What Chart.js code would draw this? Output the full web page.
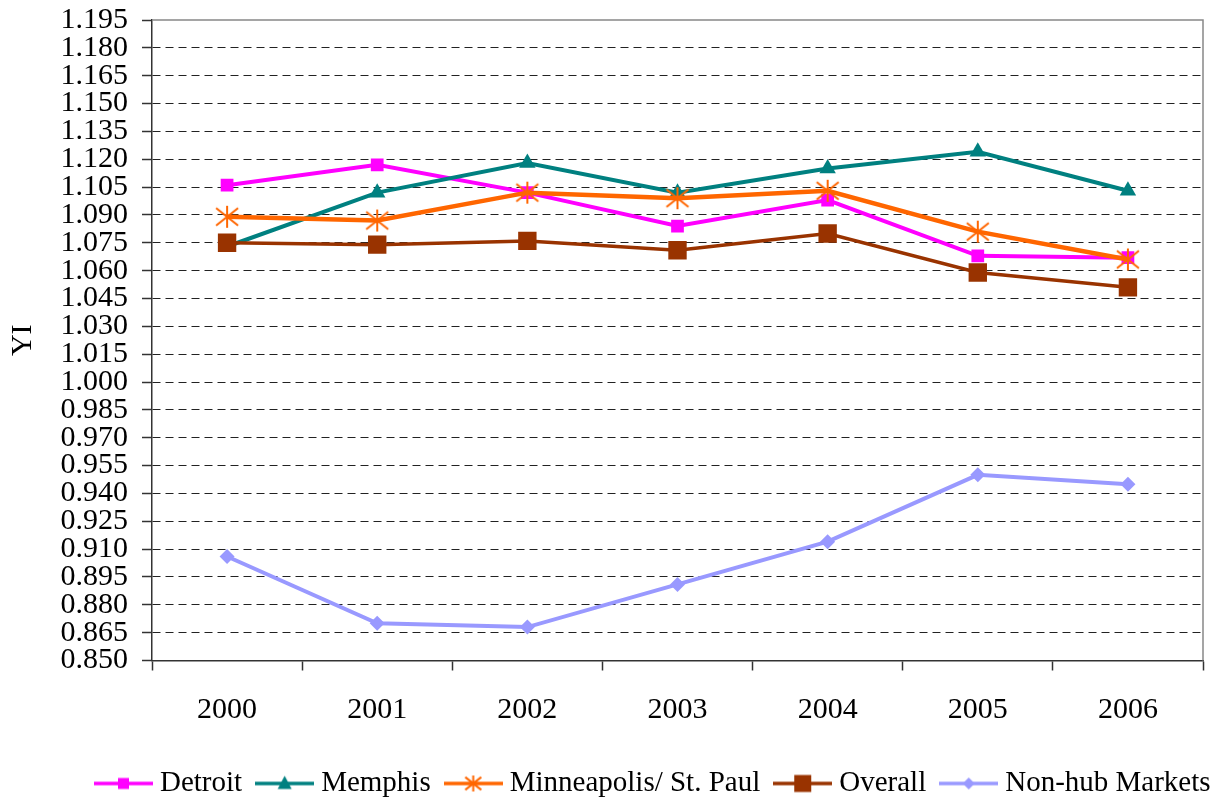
<!DOCTYPE html>
<html>
<head>
<meta charset="utf-8">
<script src="https://cdn.jsdelivr.net/npm/chart.js@4.4.1/dist/chart.umd.min.js"></script>
<style>
  html, body { margin: 0; padding: 0; background: #fff; }
  #wrap { width: 1219px; height: 801px; }
</style>
</head>
<body>
<div id="wrap"><canvas id="yiChart" width="1219" height="801"></canvas></div>
<script>
// Data
const years = ['2000', '2001', '2002', '2003', '2004', '2005', '2006'];
const detroit = [1.106, 1.117, 1.102, 1.084, 1.098, 1.068, 1.067];
const memphis = [1.073, 1.102, 1.118, 1.102, 1.115, 1.124, 1.103];
const minneapolis = [1.089, 1.087, 1.102, 1.099, 1.103, 1.081, 1.066];
const overall = [1.075, 1.074, 1.076, 1.071, 1.080, 1.059, 1.051];
const nonHub = [0.906, 0.870, 0.868, 0.891, 0.914, 0.950, 0.945];
const yTicks = [0.850, 0.865, 0.880, 0.895, 0.910, 0.925, 0.940, 0.955, 0.970, 0.985,
  1.000, 1.015, 1.030, 1.045, 1.060, 1.075, 1.090, 1.105, 1.120, 1.135, 1.150, 1.165, 1.180, 1.195];

const FONT = 'Liberation Serif';

// draws one marker shape onto a 2d context
function drawMarker(c, shape, x, y, s, color) {
    c.fillStyle = color;
    c.strokeStyle = color;
    c.beginPath();
    if (shape === 'rect') {
        c.fillRect(x - s / 2, y - s / 2, s, s);
    } else if (shape === 'triangle') {
        c.moveTo(x, y - s * 0.55);
        c.lineTo(x + s / 2, y + s * 0.4);
        c.lineTo(x - s / 2, y + s * 0.4);
        c.closePath();
        c.fill();
    } else if (shape === 'diamond') {
        c.moveTo(x, y - s / 2);
        c.lineTo(x + s / 2, y);
        c.lineTo(x, y + s / 2);
        c.lineTo(x - s / 2, y);
        c.closePath();
        c.fill();
    } else if (shape === 'star') {
        const h = s / 2;
        c.lineWidth = 2;
        c.moveTo(x, y - h); c.lineTo(x, y + h);
        c.moveTo(x - h, y - h * 0.8); c.lineTo(x + h, y + h * 0.8);
        c.moveTo(x + h, y - h * 0.8); c.lineTo(x - h, y + h * 0.8);
        c.stroke();
    }
}

function starImage(size, color) {
    const cv = document.createElement('canvas');
    cv.width = size + 4;
    cv.height = size + 4;
    drawMarker(cv.getContext('2d'), 'star', cv.width / 2, cv.height / 2, size, color);
    return cv;
}

const LEG_W = 59;
function legendImage(shape, size, color) {
    const cv = document.createElement('canvas');
    cv.width = LEG_W;
    cv.height = 24;
    const c = cv.getContext('2d');
    c.strokeStyle = color;
    c.lineWidth = 3.5;
    c.beginPath();
    c.moveTo(0, 12);
    c.lineTo(LEG_W, 12);
    c.stroke();
    drawMarker(c, shape, LEG_W / 2, 12, size, color);
    return cv;
}

const series = [
    { label: 'Detroit', data: detroit, color: '#FF00FF', style: 'rect', radius: 9, width: 4, legend: ['rect', 11] },
    { label: 'Memphis', data: memphis, color: '#008080', style: 'triangle', radius: 9.5, width: 4, legend: ['triangle', 14] },
    { label: 'Minneapolis/ St. Paul', data: minneapolis, color: '#FF6600', style: starImage(22, '#FF6600'), radius: 11, width: 4.5, legend: ['star', 16] },
    { label: 'Overall', data: overall, color: '#993300', style: 'rect', radius: 13, width: 3.5, legend: ['rect', 17] },
    { label: 'Non-hub Markets', data: nonHub, color: '#9999FF', style: 'rectRot', radius: 7.5, width: 4, legend: ['diamond', 12] }
];

const frame = {
    id: 'frame',
    afterLayout(chart) {
        // place legend row where the reference has it
        const lg = chart.legend;
        lg.left = 101.5 - lg.options.labels.padding;
        lg.right = 1600;
        lg.top += 7;
        lg.bottom += 7;
    },
    beforeDatasetsDraw(chart) {
        const { ctx, chartArea: a } = chart;
        ctx.save();
        ctx.strokeStyle = '#888';
        ctx.lineWidth = 1.5;
        ctx.beginPath();
        ctx.moveTo(a.left, a.top);
        ctx.lineTo(a.right, a.top);
        ctx.lineTo(a.right, a.bottom);
        ctx.stroke();
        ctx.restore();
    }
};

new Chart(document.getElementById('yiChart'), {
    type: 'line',
    data: {
        labels: years,
        datasets: series.map((s, i) => ({
            label: s.label,
            data: s.data,
            order: -i,
            borderColor: s.color,
            backgroundColor: s.color,
            borderWidth: s.width,
            pointStyle: s.style,
            pointRadius: s.radius,
            pointBorderWidth: 0,
            pointBackgroundColor: s.color,
            tension: 0,
            fill: false
        }))
    },
    options: {
        responsive: false,
        animation: false,
        layout: { padding: { left: 0, right: 16, top: 20, bottom: 0 } },
        plugins: {
            legend: {
                position: 'bottom',
                align: 'start',
                labels: {
                    usePointStyle: true,
                    pointStyleWidth: LEG_W - 15,
                    padding: 20.5,
                    color: '#000',
                    font: { family: FONT, size: 29 },
                    generateLabels(chart) {
                        const items = Chart.defaults.plugins.legend.labels.generateLabels(chart);
                        items.sort((a, b) => a.datasetIndex - b.datasetIndex);
                        items.forEach(it => {
                            const s = series[it.datasetIndex];
                            it.pointStyle = legendImage(s.legend[0], s.legend[1], s.color);
                        });
                        return items;
                    }
                }
            },
            tooltip: { enabled: false }
        },
        scales: {
            x: {
                offset: true,
                grid: {
                    offset: true,
                    drawOnChartArea: false,
                    tickLength: 10,
                    tickColor: '#333',
                    tickWidth: 1.5
                },
                border: { color: '#333', width: 1.5 },
                ticks: {
                    color: '#000',
                    padding: 22,
                    maxRotation: 0,
                    font: { family: FONT, size: 30 }
                },
                afterFit(scale) { scale.height = 81; }
            },
            y: {
                min: 0.85,
                max: 1.195,
                afterBuildTicks(scale) {
                    scale.ticks = yTicks.map(v => ({ value: v }));
                },
                grid: {
                    color: ctx => (ctx.tick && (ctx.tick.value === 1.195 || ctx.tick.value === 0.85)) ? 'rgba(0,0,0,0)' : '#222',
                    lineWidth: 1,
                    tickLength: 10,
                    tickColor: '#333',
                    tickWidth: 1.5,
                    tickBorderDash: []
                },
                border: { color: '#333', width: 1.5, dash: [8, 5] },
                ticks: {
                    color: '#000',
                    padding: 14,
                    autoSkip: false,
                    font: { family: FONT, size: 30 },
                    callback: v => Number(v).toFixed(3)
                },
                title: {
                    display: true,
                    text: 'YI',
                    color: '#000',
                    font: { family: FONT, size: 30 },
                    padding: { top: 5, bottom: 0 }
                },
                afterFit(scale) {
                    scale.width = 152;
                    scale.paddingTop = 0;
                    scale.paddingBottom = 0;
                }
            }
        }
    },
    plugins: [frame]
});
</script>
</body>
</html>
